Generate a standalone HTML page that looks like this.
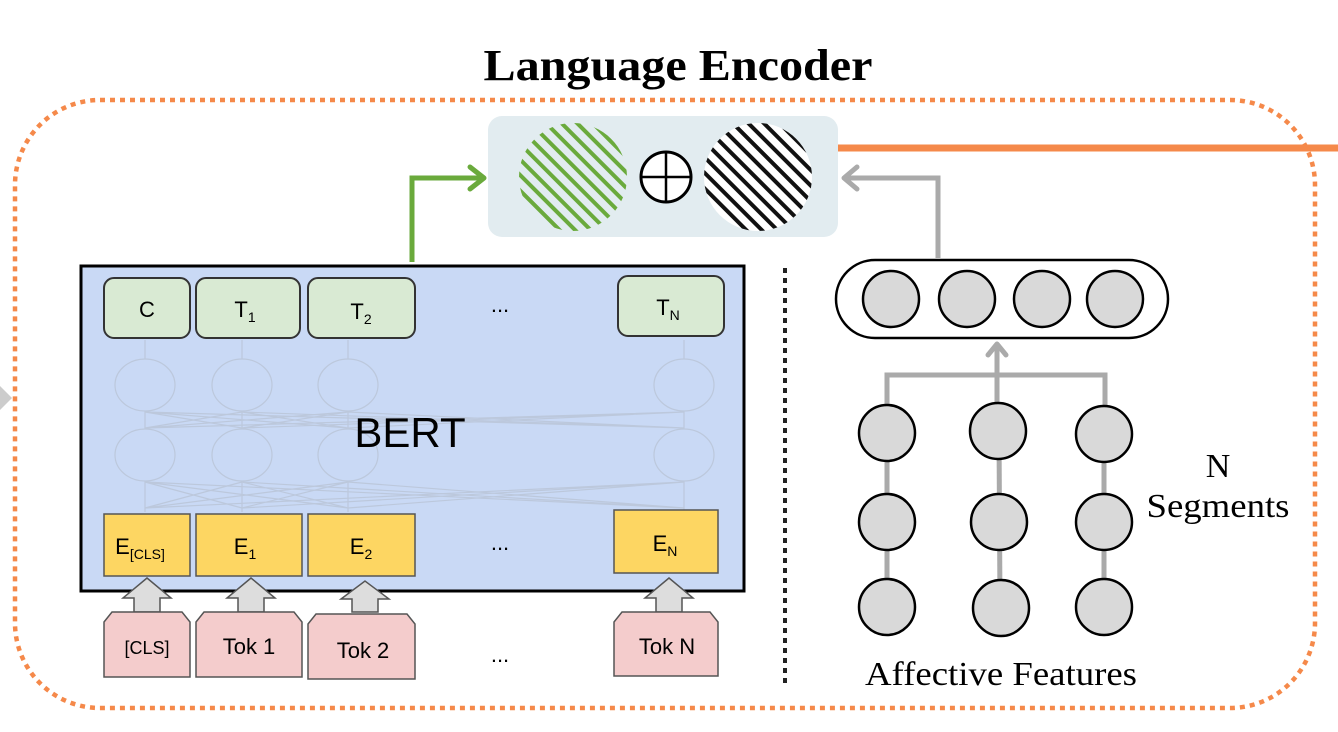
<!DOCTYPE html>
<html><head><meta charset="utf-8"><style>body{margin:0;background:#fff}svg{display:block}</style></head><body>
<svg width="1338" height="732" viewBox="0 0 1338 732" xmlns="http://www.w3.org/2000/svg">
<defs>
<pattern id="hg" patternUnits="userSpaceOnUse" width="11" height="11" patternTransform="rotate(-45)"><rect width="11" height="11" fill="#e2ecf0"/><rect width="4" height="11" fill="#6aaa3c"/></pattern>
<pattern id="hb" patternUnits="userSpaceOnUse" width="11" height="11" patternTransform="rotate(-45)"><rect width="11" height="11" fill="#fff"/><rect width="4" height="11" fill="#111"/></pattern>
</defs>
<text x="678" y="80" text-anchor="middle" font-family="Liberation Serif, serif" font-weight="bold" font-size="44" textLength="389" lengthAdjust="spacingAndGlyphs">Language Encoder</text>
<rect x="15" y="100" width="1300" height="608" rx="85" fill="none" stroke="#f5894a" stroke-width="4.5" stroke-dasharray="5,5"/>
<polygon points="0,386 12,398 0,410" fill="#ccc"/>
<line x1="838" y1="148" x2="1338" y2="148" stroke="#f5894a" stroke-width="7"/>
<rect x="488" y="116" width="350" height="121" rx="14" fill="#e2ecf0"/>
<circle cx="573" cy="177" r="54" fill="url(#hg)"/>
<circle cx="758" cy="177" r="54" fill="url(#hb)"/>
<circle cx="666" cy="177" r="25" fill="#fff" stroke="#000" stroke-width="3"/>
<line x1="641" y1="177" x2="691" y2="177" stroke="#000" stroke-width="2.5"/>
<line x1="666" y1="152" x2="666" y2="202" stroke="#000" stroke-width="2.5"/>
<polyline points="412,262 412,178 482,178" fill="none" stroke="#6aaa3c" stroke-width="5"/>
<polyline points="470,167 484,178 470,189" fill="none" stroke="#6aaa3c" stroke-width="5" stroke-linecap="round" stroke-linejoin="round"/>
<polyline points="938,258 938,178 846,178" fill="none" stroke="#aaa" stroke-width="5"/>
<polyline points="857,167 844,178 857,189" fill="none" stroke="#aaa" stroke-width="5" stroke-linecap="round" stroke-linejoin="round"/>
<rect x="81" y="266" width="663" height="325" fill="#c9d9f5" stroke="#000" stroke-width="3"/>
<g fill="none" stroke="#bcc8dc" stroke-width="1.2">
<ellipse cx="145" cy="385" rx="30" ry="26"/><ellipse cx="242" cy="385" rx="30" ry="26"/><ellipse cx="348" cy="385" rx="30" ry="26"/><ellipse cx="684" cy="385" rx="30" ry="26"/>
<ellipse cx="145" cy="455" rx="30" ry="26"/><ellipse cx="242" cy="455" rx="30" ry="26"/><ellipse cx="348" cy="455" rx="30" ry="26"/><ellipse cx="684" cy="455" rx="30" ry="26"/>
<path d="M145 340V359M242 340V359M348 340V359M684 340V359M145 411V429M242 411V429M348 411V429M684 411V429M145 481V512M242 481V512M348 481V512M684 481V512"/>
<path d="M145 428L242 412M145 428L348 412M145 428L684 412M242 428L145 412M242 428L348 412M242 428L684 412M348 428L145 412M348 428L242 412M348 428L684 412M684 428L145 412M684 428L242 412M684 428L348 412"/>
<path d="M145 508L242 482M145 508L348 482M145 508L684 482M242 508L145 482M242 508L348 482M242 508L684 482M348 508L145 482M348 508L242 482M348 508L684 482M684 508L145 482M684 508L242 482M684 508L348 482"/>
</g>
<text x="410" y="447" text-anchor="middle" font-family="Liberation Sans, sans-serif" font-size="42">BERT</text>
<g fill="#d9ead3" stroke="#333" stroke-width="2">
<rect x="104" y="278" width="86" height="60" rx="10"/><rect x="196" y="278" width="104" height="60" rx="10"/><rect x="308" y="278" width="107" height="60" rx="10"/><rect x="618" y="276" width="106" height="60" rx="10"/>
</g>
<g font-family="Liberation Sans, sans-serif" font-size="22" text-anchor="middle">
<text x="147" y="317">C</text>
<text x="245" y="317">T<tspan font-size="14" dy="5">1</tspan></text>
<text x="361" y="319">T<tspan font-size="14" dy="5">2</tspan></text>
<text x="668" y="315">T<tspan font-size="14" dy="5">N</tspan></text>
<text x="500" y="312">...</text>
<text x="500" y="550">...</text>
<text x="500" y="662">...</text>
</g>
<g fill="#fdd662" stroke="#555" stroke-width="1.5">
<rect x="104" y="514" width="86" height="62"/><rect x="196" y="514" width="106" height="62"/><rect x="308" y="514" width="107" height="62"/><rect x="614" y="510" width="104" height="63"/>
</g>
<g font-family="Liberation Sans, sans-serif" font-size="22" text-anchor="middle">
<text x="140" y="554">E<tspan font-size="14" dy="5">[CLS]</tspan></text>
<text x="245" y="554">E<tspan font-size="14" dy="5">1</tspan></text>
<text x="361" y="554">E<tspan font-size="14" dy="5">2</tspan></text>
<text x="665" y="551">E<tspan font-size="14" dy="5">N</tspan></text>
</g>
<g fill="#ddd" stroke="#555" stroke-width="1.5">
<polygon points="134,612 134,598 123,598 147,578 171,598 160,598 160,612"/>
<polygon points="238,612 238,598 227,598 251,578 275,598 264,598 264,612"/>
<polygon points="352,612 352,599 341,599 365,581 389,599 378,599 378,612"/>
<polygon points="656,612 656,598 645,598 669,578 693,598 682,598 682,612"/>
</g>
<g fill="#f4cccc" stroke="#555" stroke-width="1.5">
<polygon points="104,622 112,612 182,612 190,622 190,677 104,677"/>
<polygon points="196,622 204,612 294,612 302,622 302,677 196,677"/>
<polygon points="308,624 316,614 407,614 415,624 415,679 308,679"/>
<polygon points="614,622 622,612 710,612 718,622 718,676 614,676"/>
</g>
<g font-family="Liberation Sans, sans-serif" font-size="22" text-anchor="middle">
<text x="147" y="654" font-size="18">[CLS]</text>
<text x="249" y="654">Tok 1</text>
<text x="363" y="658">Tok 2</text>
<text x="667" y="654">Tok N</text>
</g>
<line x1="785" y1="268" x2="785" y2="688" stroke="#222" stroke-width="4" stroke-dasharray="5,5"/>
<rect x="836" y="260" width="332" height="78" rx="39" fill="#fff" stroke="#000" stroke-width="2.5"/>
<g fill="#d9d9d9" stroke="#000" stroke-width="2.5">
<circle cx="891" cy="299" r="28"/><circle cx="967" cy="299" r="28"/><circle cx="1042" cy="299" r="28"/><circle cx="1115" cy="299" r="28"/>
</g>
<g stroke="#aaa" stroke-width="5" fill="none">
<polyline points="887,432 887,375 1105,375 1105,432"/>
<line x1="997" y1="432" x2="997" y2="344"/>
<polyline points="988,355 997,344 1006,355" stroke-linecap="round" stroke-linejoin="round"/>
<line x1="887" y1="432" x2="887" y2="607"/><line x1="999" y1="432" x2="1000" y2="607"/><line x1="1104" y1="432" x2="1104" y2="607"/>
</g>
<g fill="#d9d9d9" stroke="#000" stroke-width="2.5">
<circle cx="887" cy="433" r="28"/><circle cx="998" cy="431" r="28"/><circle cx="1104" cy="434" r="28"/>
<circle cx="887" cy="522" r="28"/><circle cx="999" cy="522" r="28"/><circle cx="1104" cy="522" r="28"/>
<circle cx="887" cy="607" r="28"/><circle cx="1001" cy="608" r="28"/><circle cx="1104" cy="607" r="28"/>
</g>
<g font-family="Liberation Serif, serif" font-size="34" text-anchor="middle">
<text x="1218" y="477">N</text>
<text x="1218" y="517" textLength="143" lengthAdjust="spacingAndGlyphs">Segments</text>
<text x="1001" y="685" textLength="272" lengthAdjust="spacingAndGlyphs">Affective Features</text>
</g>
</svg>
</body></html>
